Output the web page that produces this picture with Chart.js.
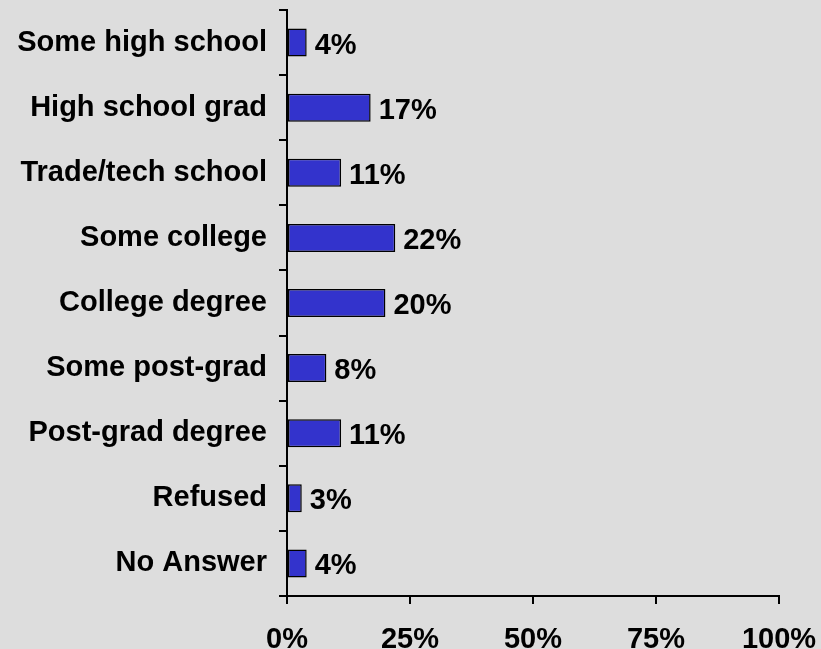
<!DOCTYPE html>
<html>
<head>
<meta charset="utf-8">
<script src="https://cdn.jsdelivr.net/npm/chart.js@4/dist/chart.umd.min.js"></script>
<style>
    html, body { margin: 0; padding: 0; background: #dddddd; }
    #wrap { width: 821px; height: 649px; }
</style>
</head>
<body>
<div id="wrap"><canvas id="eduChart"></canvas></div>
<script>
const categories = ['Some high school', 'High school grad', 'Trade/tech school', 'Some college',
    'College degree', 'Some post-grad', 'Post-grad degree', 'Refused', 'No Answer'];
const percents = [4, 17, 11, 22, 20, 8, 11, 3, 4];
const xTicks = [0, 25, 50, 75, 100];

const labelFont = { family: 'Liberation Sans, Arial, sans-serif', size: 29, weight: 'bold' };

// write the percentage just past the end of each bar
const barValues = {
    id: 'barValues',
    afterDatasetsDraw(chart) {
        const ctx = chart.ctx;
        const meta = chart.getDatasetMeta(0);
        ctx.save();
        ctx.font = 'bold 29px "Liberation Sans", Arial, sans-serif';
        ctx.fillStyle = '#000';
        ctx.textAlign = 'left';
        ctx.textBaseline = 'middle';
        meta.data.forEach((bar, i) => {
            ctx.fillText(percents[i] + '%', bar.x + 8, bar.y + 3);
        });
        ctx.restore();
    }
};

new Chart(document.getElementById('eduChart'), {
    type: 'bar',
    data: {
        labels: categories,
        datasets: [{
            data: percents,
            backgroundColor: '#3333cc',
            borderColor: '#000000',
            borderWidth: 1.5,
            borderSkipped: false,
            categoryPercentage: 0.43,
            barPercentage: 1
        }]
    },
    options: {
        indexAxis: 'y',
        responsive: true,
        maintainAspectRatio: false,
        animation: false,
        layout: { padding: { top: 10, right: 42, left: 0, bottom: 0 } },
        plugins: {
            legend: { display: false },
            tooltip: { enabled: false }
        },
        scales: {
            x: {
                min: 0,
                max: 100,
                afterBuildTicks: axis => { axis.ticks = xTicks.map(v => ({ value: v })); },
                afterFit: axis => {
                    axis.height = 53;
                    axis.paddingLeft = 0;
                    axis.paddingRight = 0;
                },
                grid: { drawOnChartArea: false, drawTicks: true, tickLength: 8, color: '#000', lineWidth: 2 },
                border: { display: true, color: '#000', width: 2 },
                ticks: {
                    font: labelFont,
                    color: '#000',
                    padding: 19,
                    maxRotation: 0,
                    callback: v => v + '%'
                }
            },
            y: {
                afterFit: axis => {
                    axis.width = 287;
                    axis.paddingTop = 0;
                    axis.paddingBottom = 0;
                },
                grid: { drawOnChartArea: false, drawTicks: true, tickLength: 8, color: '#000', lineWidth: 2, offset: true },
                border: { display: true, color: '#000', width: 2 },
                ticks: { font: labelFont, color: '#000', padding: 12 }
            }
        }
    },
    plugins: [barValues]
});
</script>
</body>
</html>
